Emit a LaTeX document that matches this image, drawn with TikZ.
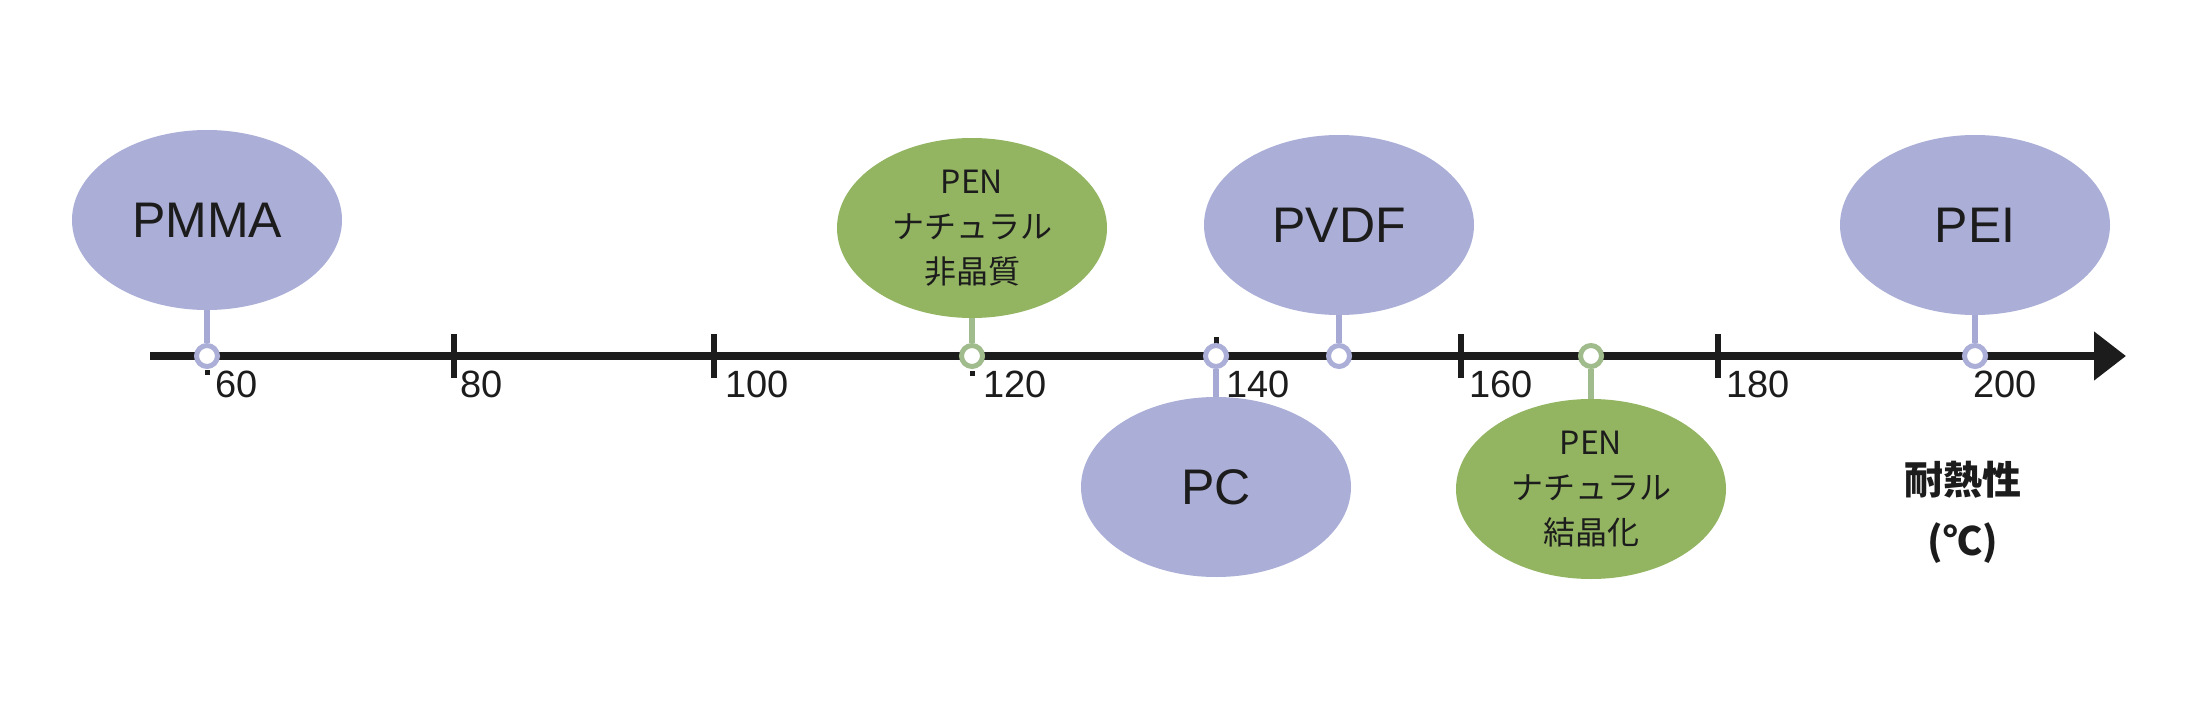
\documentclass[tikz,border=0pt]{standalone}
\usepackage{fontspec}
\setmainfont{Liberation Sans}
\newfontfamily\jp{Noto Sans CJK JP}
\usetikzlibrary{shapes.geometric,arrows.meta}
\definecolor{lav}{HTML}{ABAED6}
\definecolor{lavd}{HTML}{A6A9D3}
\definecolor{grn}{HTML}{93B562}
\definecolor{grnd}{HTML}{A0BB8C}
\definecolor{ink}{HTML}{1C1C1C}
\begin{document}
\begin{tikzpicture}[x=1pt,y=-1pt,
  blob/.style={ellipse, minimum width=270pt, minimum height=180pt, inner sep=0pt, text=ink},
  lavblob/.style={blob, fill=lav, font=\fontsize{50}{56}\selectfont},
  grnblob/.style={blob, fill=grn, align=center, font=\jp\fontsize{32}{45}\selectfont},
  marklav/.style={circle, draw=lav, fill=white, line width=5pt, minimum size=21pt, inner sep=0pt},
  markgrn/.style={circle, draw=grnd, fill=white, line width=5pt, minimum size=21pt, inner sep=0pt},
  stemlav/.style={draw=lavd, line width=6pt},
  stemgrn/.style={draw=grnd, line width=6pt},
  ticklab/.style={anchor=base west, inner sep=0pt, text=ink, font=\fontsize{38}{40}\selectfont},
  tickmark/.style={line width=6pt, ink},
  dotmark/.style={fill=ink}
]
\useasboundingbox (0,0) rectangle (2196,706);

% axis
\coordinate (axs) at (150,356);
\coordinate (axe) at (2126,356);
\draw[line width=8pt, ink, -{Triangle[length=32pt,width=47pt]}] (axs) -- (axe);

% ticks
\foreach \x in {454,714,1461,1718} {
  \draw[tickmark] (\x,334) -- (\x,378);
}
\fill[dotmark] (204.5,369.5) rectangle (209.5,374.5);
\fill[dotmark] (969.5,370.5) rectangle (974.5,375.5);
\fill[dotmark] (1213.5,336.5) rectangle (1218.5,343.5);

% tick labels
\node[ticklab] (l60)  at (215,397) {60};
\node[ticklab] (l80)  at (460,397) {80};
\node[ticklab] (l100) at (725,397) {100};
\node[ticklab] (l120) at (983,397) {120};
\node[ticklab] (l140) at (1226,397) {140};
\node[ticklab] (l160) at (1469,397) {160};
\node[ticklab] (l180) at (1726,397) {180};
\node[ticklab] (l200) at (1973,397) {200};

% ellipses
\node[lavblob] (pmma) at (207,220) {PMMA};
\node[grnblob] (pena) at (972,228) {PEN\\ナチュラル\\非晶質};
\node[lavblob] (pvdf) at (1339,225) {PVDF};
\node[lavblob] (pei)  at (1975,225) {PEI};
\node[lavblob] (pc)   at (1216,487) {PC};
\node[grnblob] (penc) at (1591,489) {PEN\\ナチュラル\\結晶化};

% markers
\node[marklav] (c60)  at (207,356) {};
\node[markgrn] (c120) at (972,356) {};
\node[marklav] (c140) at (1216,356) {};
\node[marklav] (c145) at (1339,356) {};
\node[markgrn] (c170) at (1591,356) {};
\node[marklav] (c200) at (1975,356) {};

% stems
\draw[stemlav] (pmma.south) -- (c60.north);
\draw[stemgrn] (pena.south) -- (c120.north);
\draw[stemlav] (pvdf.south) -- (c145.north);
\draw[stemlav] (pei.south) -- (c200.north);
\draw[stemlav] (pc.north) -- (c140.south);
\draw[stemgrn] (penc.north) -- (c170.south);

% axis caption
\node[align=center, text=ink, font=\jp\bfseries\fontsize{39}{61}\selectfont] (unit) at (1963,512) {耐熱性\\(℃)};
\end{tikzpicture}
\end{document}
